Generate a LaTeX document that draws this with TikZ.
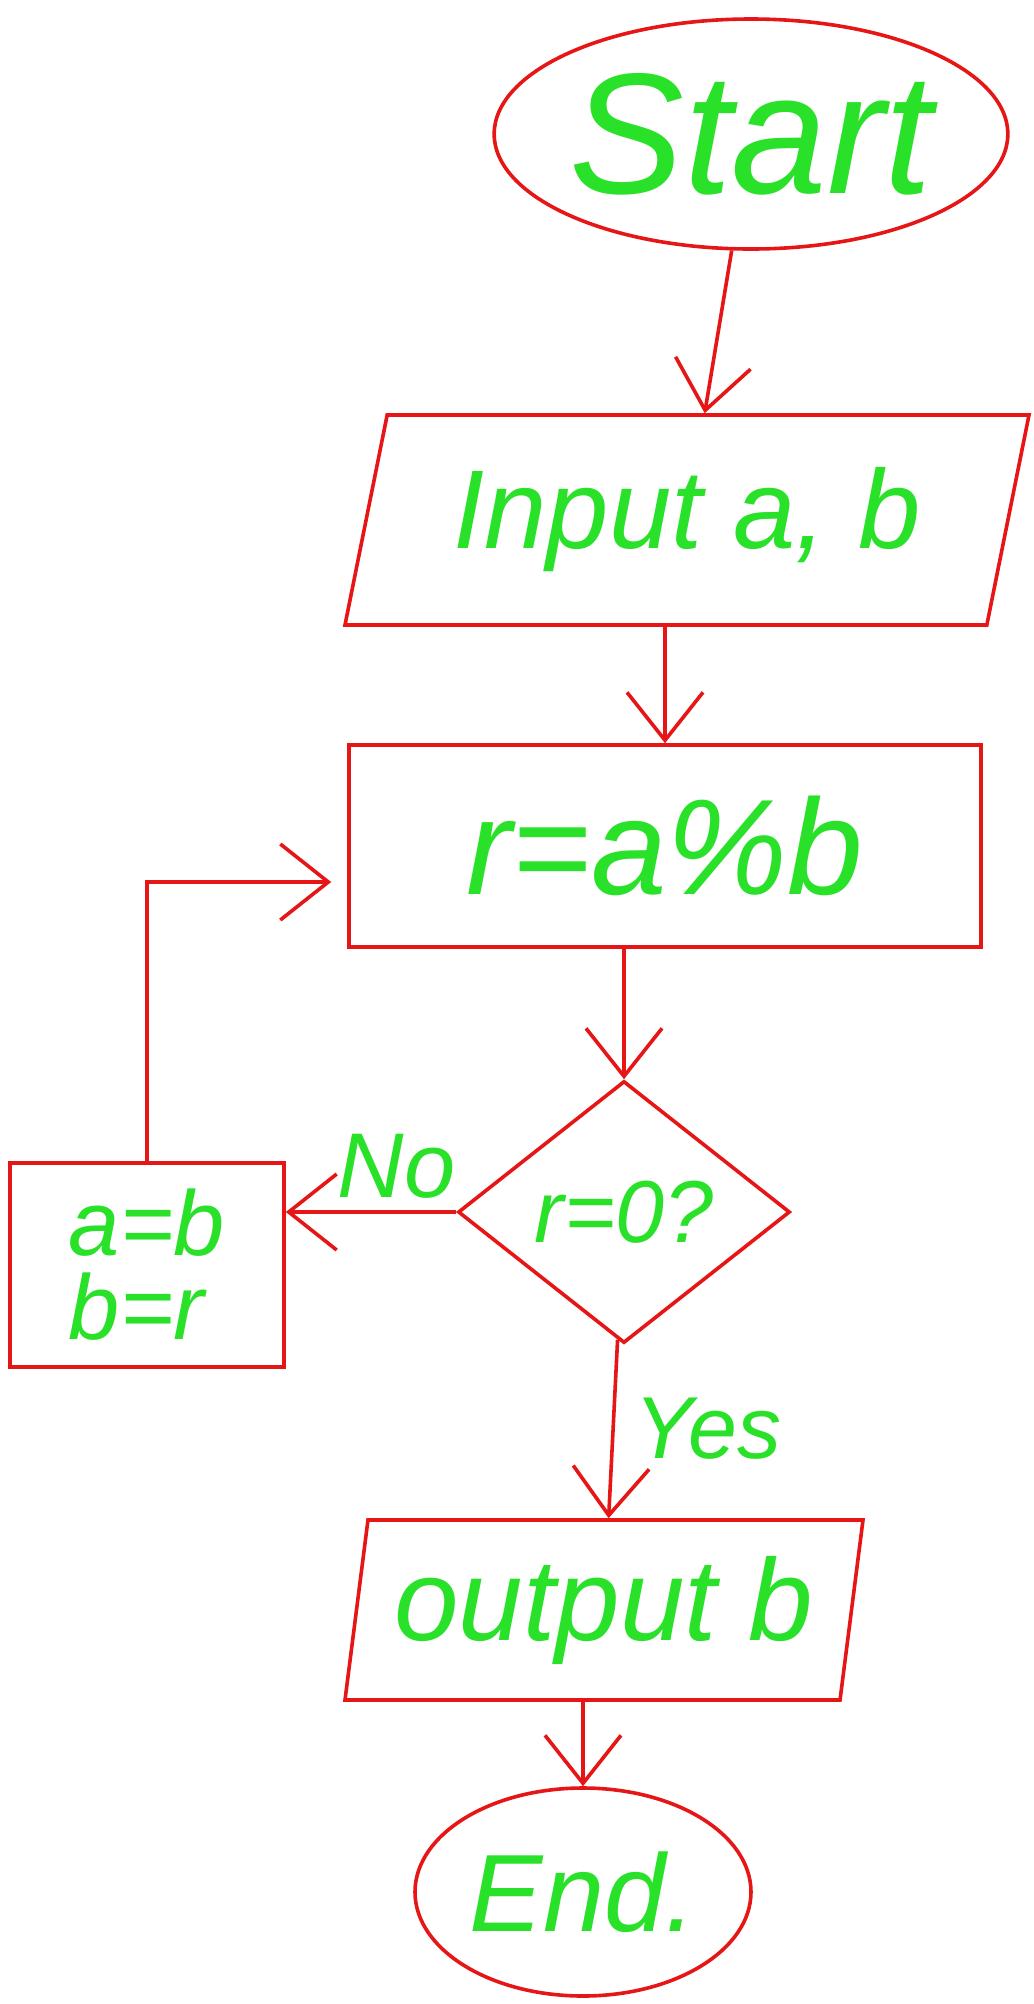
\documentclass[tikz,border=0pt]{standalone}
\usepackage{fontspec}
\setmainfont{Liberation Sans}
\usepackage{tikz}
\usetikzlibrary{positioning,arrows.meta,shapes.geometric}
\definecolor{pen}{RGB}{230,22,22}
\definecolor{ink}{RGB}{40,225,40}
\def\hand#1{\fontsize{#1}{#1}\selectfont\itshape}

\begin{document}
\begin{tikzpicture}[>={Straight Barb[length=24pt,width=38pt]}, line width=1.8pt, draw=pen, text=ink,
	terminal/.style={ellipse, draw=pen, inner sep=0pt},
	io/.style={trapezium, trapezium stretches body, draw=pen, inner sep=0pt},
	process/.style={rectangle, draw=pen, inner sep=0pt},
	decision/.style={diamond, draw=pen, inner sep=0pt},
	every edge/.style={draw=pen, line width=1.8pt}]
	\useasboundingbox (0pt,0pt) rectangle (517pt,-1002pt);
	\draw (375.5pt, -67.0pt)node[terminal, minimum width=240pt, minimum height=115pt](start){\hand{86pt}Start};
	\draw (343.5pt, -260.0pt)node[io, minimum width=342pt, minimum height=105pt, trapezium left angle=68, trapezium right angle=112](in){\hand{56pt}Input a, b};
	\draw (332.5pt, -423.0pt)node[process, minimum width=316pt, minimum height=101pt](rem){\hand{68pt}r=a\%b};
	\draw (312.0pt, -606.0pt)node[decision, minimum width=166pt, minimum height=131pt](test){\hand{44pt}r=0?};
	\draw (73.5pt, -632.5pt)node[process, minimum width=137pt, minimum height=102pt, align=left, font=\fontsize{46pt}{42pt}\selectfont\itshape](swap){a=b\\b=r};
	\draw (302.0pt, -805.0pt)node[io, minimum width=259pt, minimum height=90pt, trapezium left angle=78, trapezium right angle=102](out){\hand{58pt}output b};
	\draw (291.5pt, -946.0pt)node[terminal, minimum width=168pt, minimum height=104pt](stop){\hand{55pt}End.};
	\path[->] (start) edge (in);
	\path[->] (in.south -| rem.north) edge (rem);
	\path[->] (rem.south -| test.north) edge (test);
	\path[->] (test.west) edge node[above, pos=0.35, inner sep=6pt]{\hand{46pt}No} (test.west -| swap.east);
	\path[->] (test) edge node[right, inner sep=10pt]{\hand{44pt}Yes} (out);
	\path[->] (out.south -| stop.north) edge (stop);
	\draw[->, shorten >=8pt] (swap.north) |- ([yshift=-18pt]rem.west);
\end{tikzpicture}
\end{document}
